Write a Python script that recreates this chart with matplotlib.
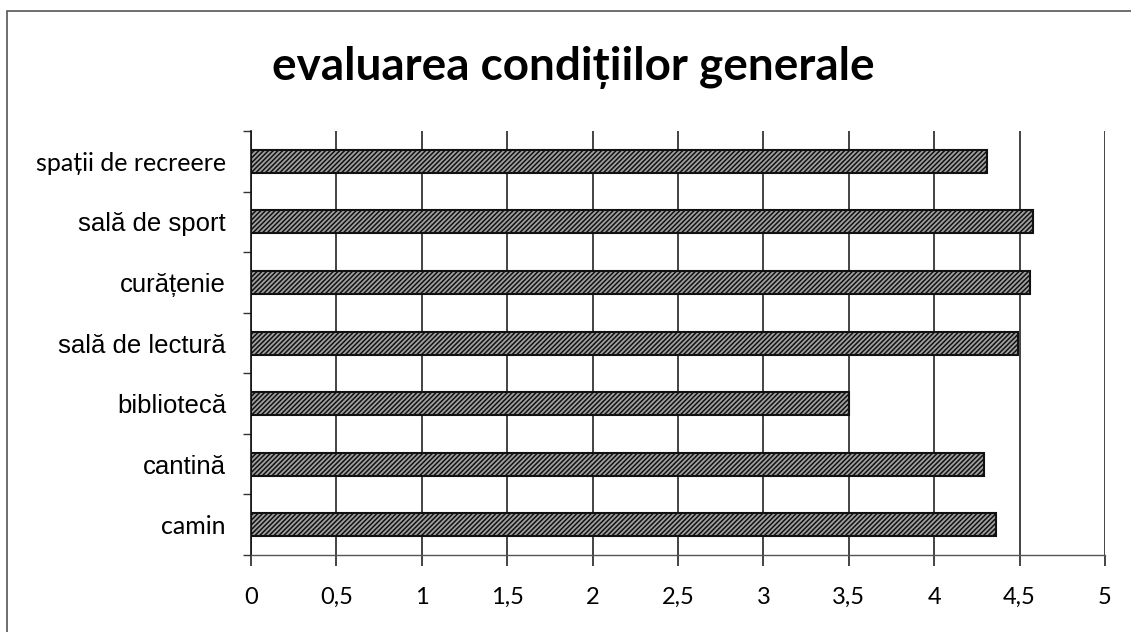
import matplotlib
matplotlib.use("Agg")
import matplotlib.pyplot as plt
import numpy as np
from matplotlib.patches import Rectangle

# evaluation scores, listed bottom to top
categories = ["camin", "cantină", "bibliotecă", "sală de lectură",
              "curățenie", "sală de sport", "spații de recreere"]
scores = [4.36, 4.29, 3.50, 4.49, 4.56, 4.58, 4.31]
label_fonts = ["Lato", "Liberation Sans", "Liberation Sans", "Liberation Sans",
               "Liberation Sans", "Liberation Sans", "Lato"]
xticks = [0, 0.5, 1, 1.5, 2, 2.5, 3, 3.5, 4, 4.5, 5]
xtick_labels = ["0", "0,5", "1", "1,5", "2", "2,5", "3", "3,5", "4", "4,5", "5"]

plt.rcParams["hatch.color"] = "#262626"
plt.rcParams["hatch.linewidth"] = 1.1

fig = plt.figure(figsize=(11.31, 6.32), dpi=100)
ax = fig.add_axes([0.2219, 0.1218, 0.977 - 0.2219, 0.7927 - 0.1218])

# frame around the whole chart
fig.patches.append(Rectangle((7 / 1131, -0.05), 1.1, 1 - 11 / 632 + 0.05,
                             transform=fig.transFigure, fill=False,
                             edgecolor="#555555", linewidth=1.2))

y = np.arange(len(categories))
ax.barh(y, scores, height=0.38, color="#a0a0a0", edgecolor="#111111",
        linewidth=1.5, hatch="///////", zorder=3)

ax.set_xlim(0, 5)
ax.set_ylim(-0.5, len(categories) - 0.5)
ax.set_xticks(xticks)
ax.set_xticklabels(xtick_labels, family="Lato", fontsize=17, va="baseline")
ax.xaxis.grid(True, color="#111111", linewidth=1.1)
ax.set_axisbelow(True)
ax.tick_params(axis="x", length=8, width=1.1, color="#111111", pad=27)

ax.set_yticks(y)
ax.set_yticklabels(categories)
for lbl, fam in zip(ax.get_yticklabels(), label_fonts):
    lbl.set_family(fam)
    lbl.set_fontsize(18 if fam == "Lato" else 18.5)
ax.tick_params(axis="y", which="major", length=0, pad=18)
ax.set_yticks(np.arange(-0.5, len(categories), 1), minor=True)
ax.tick_params(axis="y", which="minor", length=6, width=1.0, color="#333333")

for side in ["top", "right"]:
    ax.spines[side].set_visible(False)
ax.spines["left"].set_color("#111111")
ax.spines["left"].set_linewidth(1.2)
ax.spines["bottom"].set_color("#555555")
ax.spines["bottom"].set_linewidth(1.0)

fig.text(0.507, 0.893, "evaluarea condițiilor generale", ha="center",
         va="center", family="Lato", fontweight="bold", fontsize=33)

fig.savefig("out.png", dpi=100, facecolor="white")
